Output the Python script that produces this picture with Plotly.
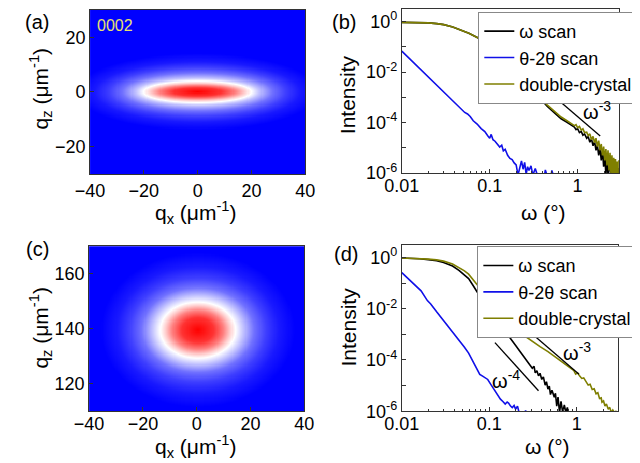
import numpy as np
import plotly.graph_objects as go

# ---------------- data: panel (b) ----------------
b_ws_omega = [0.010, 0.013, 0.016, 0.020, 0.025, 0.030, 0.038, 0.045, 0.058, 0.075, 0.100, 0.130, 0.170, 0.210, 0.250, 0.300,
              0.365, 0.450, 0.550, 0.650, 0.750, 0.840, 0.920, 0.960, 1.00, 1.05, 1.10, 1.15, 1.20, 1.27, 1.32, 1.38, 1.44,
              1.50, 1.56, 1.62, 1.68, 1.74, 1.80, 1.86, 1.92, 1.98, 2.04, 2.10, 2.16, 2.22, 2.30, 2.38, 2.46, 2.55, 2.64,
              2.72, 2.80, 2.88, 2.96, 3.00]
b_ws_log10I = [-0.03, -0.035, -0.04, -0.05, -0.08, -0.12, -0.21, -0.30, -0.46, -0.66, -0.95, -1.30, -1.75, -2.15, -2.45, -2.72,
               -3.00, -3.35, -3.63, -3.85, -3.98, -4.10, -4.18, -4.28, -4.24, -4.40, -4.35, -4.50, -4.45, -4.62, -4.55, -4.78, -4.65,
               -4.92, -4.75, -5.10, -4.90, -5.30, -5.00, -5.50, -5.10, -5.75, -5.25, -6.10, -5.35, -6.10, -5.50, -6.10, -5.55, -6.10, -5.65,
               -6.10, -5.70, -6.10, -5.80, -6.10]

b_t2t_omega = [0.0100, 0.0125, 0.0160, 0.0200, 0.0250, 0.0320, 0.0400, 0.0460, 0.0520, 0.0560, 0.0600, 0.0650, 0.0720, 0.0800,
               0.0880, 0.0950, 0.1000, 0.1040, 0.1090, 0.1150, 0.1220, 0.1300, 0.1370, 0.1430, 0.1500, 0.1600, 0.1700, 0.1800,
               0.1900, 0.2000, 0.2100, 0.2200, 0.2300, 0.2400, 0.2500, 0.2600, 0.2700, 0.2800, 0.2950, 0.3100, 0.3300, 0.3500,
               0.4200, 0.4300, 0.4500, 0.5000, 0.5100, 0.5300]
b_t2t_log10I = [-1.17, -1.50, -1.86, -2.19, -2.52, -2.88, -3.20, -3.42, -3.60, -3.66, -3.76, -3.93, -4.06, -4.24,
                -4.36, -4.52, -4.62, -4.47, -4.68, -4.74, -4.86, -4.97, -4.90, -5.12, -5.06, -5.30, -5.42, -5.47,
                -5.60, -5.68, -6.08, -5.72, -5.52, -5.85, -5.58, -6.05, -5.75, -5.90, -5.72, -6.08, -5.82, -6.10,
                -6.10, -5.88, -6.10, -6.10, -5.90, -6.10]

b_dc_omega = [0.010, 0.013, 0.016, 0.020, 0.025, 0.030, 0.038, 0.045, 0.058, 0.075, 0.100, 0.130, 0.170, 0.210, 0.250, 0.300,
              0.365, 0.450, 0.550, 0.650, 0.750, 0.840, 0.920, 0.960, 1.00, 1.05, 1.10, 1.15, 1.20, 1.27, 1.32, 1.38, 1.44,
              1.50, 1.56, 1.62, 1.68, 1.74, 1.80, 1.86, 1.92, 1.98, 2.04, 2.10, 2.16, 2.22, 2.28, 2.34, 2.40, 2.46, 2.52,
              2.58, 2.64, 2.70, 2.76, 2.82, 2.88, 2.94, 3.00]
b_dc_log10I = [-0.03, -0.035, -0.04, -0.05, -0.08, -0.12, -0.21, -0.30, -0.46, -0.66, -0.95, -1.30, -1.75, -2.15, -2.45, -2.70,
               -2.97, -3.30, -3.57, -3.78, -3.92, -4.02, -4.12, -4.08, -4.20, -4.15, -4.30, -4.25, -4.40, -4.38, -4.52, -4.45, -4.68,
               -4.55, -4.80, -4.62, -4.95, -4.72, -5.10, -4.85, -5.30, -4.95, -5.50, -5.05, -5.70, -5.10, -5.90, -5.20, -6.05, -5.30,
               -6.05, -5.40, -6.05, -5.45, -6.05, -5.55, -6.05, -5.50, -6.05]

b_slope3_omega = [0.487, 1.81]
b_slope3_log10I = [-2.83, -4.53]

# ---------------- data: panel (d) ----------------
d_ws_omega = [0.010, 0.013, 0.016, 0.020, 0.025, 0.030, 0.038, 0.045, 0.052, 0.058, 0.065, 0.073, 0.085, 0.100, 0.110, 0.130,
              0.158, 0.180, 0.204, 0.230, 0.261, 0.290, 0.310, 0.325, 0.335, 0.350, 0.365, 0.380, 0.398, 0.415, 0.435,
              0.450, 0.468, 0.485, 0.500, 0.520, 0.553, 0.570, 0.590, 0.610, 0.635, 0.660, 0.690, 0.720, 0.750, 0.780, 0.800]
d_ws_log10I = [-0.02, -0.03, -0.05, -0.08, -0.12, -0.19, -0.33, -0.50, -0.68, -0.82, -1.08, -1.35, -1.72, -2.10, -2.38, -2.70,
               -2.96, -3.20, -3.47, -3.72, -3.99, -4.22, -4.32, -4.25, -4.50, -4.42, -4.62, -4.52, -4.76, -4.66, -4.98,
               -4.85, -5.14, -5.02, -5.35, -5.18, -5.45, -5.30, -5.80, -5.45, -6.05, -5.62, -6.05, -5.75, -6.05, -5.85, -6.08]

d_t2t_omega = [0.0100, 0.0115, 0.0130, 0.0141, 0.0166, 0.0196, 0.0214, 0.0250, 0.0290, 0.0324, 0.0380, 0.0452, 0.0520,
               0.0580, 0.0650, 0.0720, 0.0778, 0.0830, 0.0883, 0.0960, 0.1040, 0.1130, 0.1230, 0.1340, 0.1430, 0.1520,
               0.1600, 0.1660, 0.1750, 0.1830, 0.1920, 0.2000, 0.2100, 0.2200, 0.2500, 0.2600, 0.2700]
d_t2t_log10I = [-0.59, -0.78, -0.95, -1.04, -1.30, -1.68, -1.81, -2.12, -2.40, -2.58, -2.92, -3.22, -3.50,
                -3.73, -4.05, -4.35, -4.56, -4.62, -4.69, -4.76, -4.95, -5.14, -5.35, -5.53, -5.62, -5.72,
                -5.64, -5.68, -5.80, -5.86, -5.78, -5.92, -5.80, -6.08, -6.10, -5.98, -6.10]

d_dc_omega = [0.010, 0.013, 0.016, 0.020, 0.025, 0.030, 0.038, 0.045, 0.052, 0.058, 0.065, 0.073, 0.085, 0.100, 0.115, 0.138,
              0.160, 0.203, 0.250, 0.308, 0.380, 0.468, 0.570, 0.710, 0.850, 0.920, 0.970, 1.02, 1.08, 1.14, 1.20, 1.27,
              1.35, 1.42, 1.50, 1.58, 1.66, 1.74, 1.82, 1.90, 1.94, 2.02, 2.10, 2.18, 2.29, 2.38, 2.48, 2.58, 2.69, 2.80, 2.90]
d_dc_log10I = [-0.02, -0.03, -0.04, -0.06, -0.09, -0.14, -0.25, -0.38, -0.52, -0.65, -0.85, -1.04, -1.35, -1.70, -2.02, -2.38,
               -2.57, -2.83, -3.05, -3.28, -3.48, -3.67, -3.88, -4.12, -4.34, -4.40, -4.55, -4.50, -4.63, -4.72, -4.70, -4.85,
               -4.98, -4.95, -5.15, -5.12, -5.32, -5.28, -5.50, -5.48, -5.65, -5.60, -5.80, -5.72, -5.92, -5.85, -6.05, -5.95, -6.05, -6.00, -6.05]

d_slope3_omega = [0.296, 1.06]
d_slope3_log10I = [-2.93, -4.56]
d_slope4_omega = [0.116, 0.365]
d_slope4_log10I = [-3.32, -5.20]

# ---------------- data: maps (nested iso-level ellipses) ----------------
map_levels = [1.0, 0.9, 0.75, 0.6, 0.5, 0.38, 0.22, 0.12, 0.05, 0.0]
a_center = (0.0, 0.0)
a_half_qx = [1e-6, 9.0, 14.0, 17.5, 20.0, 23.0, 28.0, 33.0, 38.0, 45.0]
a_half_qz = [1e-6, 1.5, 2.4, 3.2, 4.0, 5.0, 7.0, 9.0, 11.0, 14.0]
c_center = (0.5, 139.5)
c_half_qx = [1e-6, 6.0, 9.5, 12.0, 14.0, 17.0, 21.0, 25.5, 30.0, 36.0]
c_half_qz = [1e-6, 4.5, 7.0, 8.8, 10.2, 12.5, 15.5, 19.0, 23.0, 28.0]

names = ["ω scan", "θ-2θ scan", "double-crystal"]
colors = ["#000000", "#1010e8", "#7f7f00"]

FONT = "Liberation Sans, Arial, sans-serif"
W, H = 640, 463


def px(x):
    return x / W


def py(y):
    return 1 - y / H


def level_map(qx, qz, center, hx, hz, levels):
    X, Z = np.meshgrid(np.asarray(qx) - center[0], np.asarray(qz) - center[1])
    q = [np.sqrt((X / a) ** 2 + (Z / b) ** 2) for a, b in zip(hx, hz)]
    out = np.full(X.shape, levels[-1] - 0.2)
    out[q[0] <= 1] = levels[0]
    with np.errstate(divide="ignore", invalid="ignore"):
        for k in range(1, len(levels)):
            m = (q[k - 1] > 1) & (q[k] <= 1)
            inv_prev = 1.0 / q[k - 1][m]
            inv_cur = 1.0 / q[k][m]
            t = (1 - inv_prev) / (inv_cur - inv_prev)
            out[m] = levels[k - 1] + (levels[k] - levels[k - 1]) * t
    return np.round(out, 3)


qx_grid = np.arange(-40, 40.001, 0.4)
qz_grid_a = np.arange(-30, 30.001, 0.4)
qz_grid_c = np.arange(110, 170.001, 0.4)
z_a = level_map(qx_grid, qz_grid_a, a_center, a_half_qx, a_half_qz, map_levels)
z_c = level_map(qx_grid, qz_grid_c, c_center, c_half_qx, c_half_qz, map_levels)

cscale = [[0.0, "#0000ff"], [0.5, "#ffffff"], [1.0, "#ff0000"]]

fig = go.Figure()
fig.add_trace(go.Heatmap(x=qx_grid, y=qz_grid_a, z=z_a, zmin=0, zmax=1, colorscale=cscale,
                         showscale=False, xaxis="x", yaxis="y", hoverinfo="skip"))
fig.add_trace(go.Heatmap(x=qx_grid, y=qz_grid_c, z=z_c, zmin=0, zmax=1, colorscale=cscale,
                         showscale=False, xaxis="x3", yaxis="y3", hoverinfo="skip"))

panel_b = [(b_ws_omega, b_ws_log10I), (b_t2t_omega, b_t2t_log10I), (b_dc_omega, b_dc_log10I)]
panel_d = [(d_ws_omega, d_ws_log10I), (d_t2t_omega, d_t2t_log10I), (d_dc_omega, d_dc_log10I)]
for i, (xs, ls) in enumerate(panel_b):
    fig.add_trace(go.Scatter(x=xs, y=np.power(10.0, ls), mode="lines", name=names[i],
                             line=dict(color=colors[i], width=1.6), xaxis="x2", yaxis="y2", legend="legend"))
for i, (xs, ls) in enumerate(panel_d):
    fig.add_trace(go.Scatter(x=xs, y=np.power(10.0, ls), mode="lines", name=names[i],
                             line=dict(color=colors[i], width=1.6), xaxis="x4", yaxis="y4", legend="legend2"))

for xs, ls, xa, ya in [(b_slope3_omega, b_slope3_log10I, "x2", "y2"),
                       (d_slope3_omega, d_slope3_log10I, "x4", "y4"),
                       (d_slope4_omega, d_slope4_log10I, "x4", "y4")]:
    fig.add_trace(go.Scatter(x=xs, y=np.power(10.0, ls), mode="lines", showlegend=False,
                             line=dict(color="#000000", width=1.3), xaxis=xa, yaxis=ya, hoverinfo="skip"))

tickfont = dict(family=FONT, size=18, color="#000")
common = dict(showline=True, mirror=True, linecolor="#333", linewidth=1, ticks="inside", ticklen=4,
              tickcolor="#333", showgrid=False, zeroline=False, tickfont=tickfont)

log_y_vals = [1e-6, 1e-5, 1e-4, 1e-3, 1e-2, 1e-1, 1]
log_y_text = ["10<sup>-6</sup>", "", "10<sup>-4</sup>", "", "10<sup>-2</sup>", "", "10<sup>0</sup>"]
log_x_vals = [0.01, 0.1, 1]
log_x_text = ["0.01", "0.1", "1"]
log_x_minor = [0.02, 0.03, 0.04, 0.05, 0.06, 0.07, 0.08, 0.09, 0.2, 0.3, 0.4, 0.5, 0.6, 0.7, 0.8, 0.9, 2, 3]

legend_common = dict(xanchor="left", yanchor="top", bgcolor="white", bordercolor="#888", borderwidth=1,
                     font=dict(family=FONT, size=18, color="#000"), tracegroupgap=0, itemwidth=30)

fig.update_layout(
    width=W, height=H, margin=dict(l=0, r=0, t=0, b=0),
    paper_bgcolor="white", plot_bgcolor="white",
    font=dict(family=FONT, color="#000"),
    xaxis=dict(domain=[px(67), px(292)], range=[-40, 40], anchor="y", tickvals=[-40, -20, 0, 20, 40], **common),
    yaxis=dict(domain=[py(169), py(1)], range=[-30, 30], anchor="x", tickvals=[-20, 0, 20], **common),
    xaxis3=dict(domain=[px(66), px(291)], range=[-40, 40], anchor="y3", tickvals=[-40, -20, 0, 20, 40],
                ticklabelstandoff=-4, **common),
    yaxis3=dict(domain=[py(412), py(243)], range=[110, 170], anchor="x3", tickvals=[120, 140, 160], **common),
    xaxis2=dict(domain=[px(393), px(620)], type="log", range=[-2, 0.47], anchor="y2",
                tickvals=log_x_vals, ticktext=log_x_text, ticklabelstandoff=-4,
                minor=dict(ticks="inside", ticklen=2, tickcolor="#333", tickvals=log_x_minor), **common),
    yaxis2=dict(domain=[py(168), py(0)], type="log", range=[-6, 0.5], anchor="x2",
                tickvals=log_y_vals, ticktext=log_y_text, **common),
    xaxis4=dict(domain=[px(393), px(619)], type="log", range=[-2, 0.47], anchor="y4",
                tickvals=log_x_vals, ticktext=log_x_text, ticklabelstandoff=-4,
                minor=dict(ticks="inside", ticklen=2, tickcolor="#333", tickvals=log_x_minor), **common),
    yaxis4=dict(domain=[py(412), py(242)], type="log", range=[-6, 0.48], anchor="x4",
                tickvals=log_y_vals, ticktext=log_y_text, **common),
    legend=dict(x=px(473), y=py(3), **legend_common),
    legend2=dict(x=px(472), y=py(243), **legend_common),
    showlegend=True,
)

anns = [
    ("(a)", 12, 13, 0, 20), ("(b)", 333, 13, 0, 20), ("(c)", 12, 246, 0, 20), ("(d)", 335, 251, 0, 20),
    ("q<sub>x</sub> (μm<sup>-1</sup>)", 178, 208, 0, 21),
    ("q<sub>x</sub> (μm<sup>-1</sup>)", 178, 448, 0, 21),
    ("q<sub>z</sub> (μm<sup>-1</sup>)", 15, 81, -90, 21),
    ("q<sub>z</sub> (μm<sup>-1</sup>)", 15, 326, -90, 21),
    ("Intensity", 337, 88, -90, 21),
    ("Intensity", 337, 326, -90, 21),
    ("ω (°)", 541, 208, 0, 21),
    ("ω (°)", 545, 448, 0, 21),
    ("ω<sup>-3</sup>", 597, 104, 0, 20),
    ("ω<sup>-3</sup>", 576, 351, 0, 20),
    ("ω<sup>-4</sup>", 502, 380, 0, 20),
]
for text, x, y, ang, size in anns:
    fig.add_annotation(text=text, x=px(x), y=py(y), xref="paper", yref="paper", showarrow=False,
                       xanchor="center", yanchor="middle", textangle=ang,
                       font=dict(family=FONT, size=size, color="#000"))
fig.add_annotation(text="0002", x=px(93), y=py(17), xref="paper", yref="paper", showarrow=False,
                   xanchor="center", yanchor="middle", font=dict(family=FONT, size=16, color="#e8e070"))

fig.write_html("out.html")
